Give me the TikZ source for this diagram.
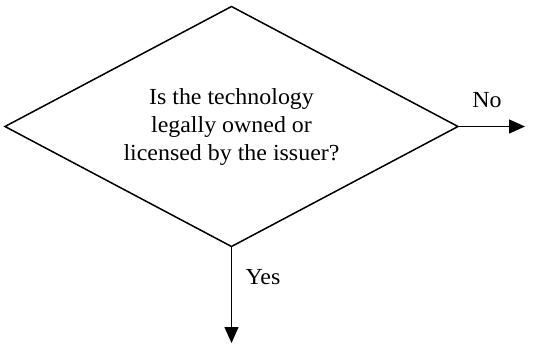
\documentclass[tikz,border=0pt]{standalone}
\usepackage{fontspec}
\setmainfont{Liberation Serif}[FakeStretch=1.04]
\usetikzlibrary{shapes.geometric,arrows.meta}
\tikzset{
  decision/.style={diamond, aspect=1.8875, draw, line width=1.5pt, inner sep=0pt, outer sep=0pt,
    minimum width=453pt, minimum height=240pt, align=center,
    font=\fontsize{23}{28}\selectfont},
  flowarrow/.style={line width=1.5pt, -{Triangle[length=16pt,width=14pt]}},
  branchlabel/.style={anchor=base, inner sep=0pt, font=\fontsize{23}{28}\selectfont}
}
\begin{document}
\begin{tikzpicture}[x=1pt,y=-1pt]
  \useasboundingbox (0,0) rectangle (546,346);
  % decision diamond
  \node[decision] (q) at (231.5,126.5)
    {Is the technology\\legally owned or\\licensed by the issuer?};
  % free ends of the two branches
  \coordinate (noend) at (525,126.5);
  \coordinate (yesend) at (231.5,343);
  \draw[flowarrow] (q.east) -- (noend);
  \draw[flowarrow] (q.south) -- (yesend);
  % branch labels
  \node[branchlabel] (nolabel) at (487,107) {No};
  \node[branchlabel] (yeslabel) at (263,284) {Yes};
\end{tikzpicture}
\end{document}
